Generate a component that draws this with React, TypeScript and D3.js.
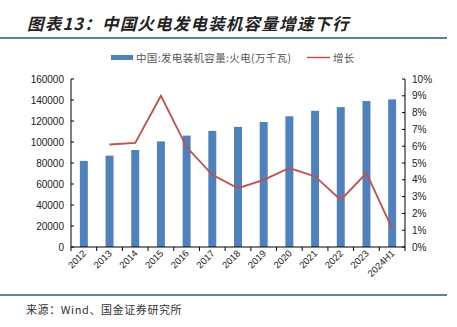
import React from "react";
import * as d3 from "d3";

const categories = ["2012","2013","2014","2015","2016","2017","2018","2019","2020","2021","2022","2023","2024H1"];
const capacity = [81968,87009,92363,100554,106094,110604,114408,119055,124517,129678,133239,139032,140586];
const growth: (number|null)[] = [null,6.1,6.2,9.0,5.95,4.3,3.5,4.0,4.7,4.2,2.8,4.4,1.1];
const leftTicks = [0,20000,40000,60000,80000,100000,120000,140000,160000];
const rightTicks = [0,1,2,3,4,5,6,7,8,9,10];

const W = 457, H = 327;
const L = 71, R = 405, T = 79, B = 247;

export default function App() {
  const x = d3.scaleBand<string>().domain(categories).range([L, R]).paddingInner(0.69).paddingOuter(0.345);
  const xb = d3.scaleBand<string>().domain(categories).range([L, R]);
  const yL = d3.scaleLinear().domain([0,160000]).range([B, T]);
  const yR = d3.scaleLinear().domain([0,10]).range([B, T]);
  const pts = categories.map((c,i)=>({c, v: growth[i]})).filter(d=>d.v!==null) as {c:string,v:number}[];
  const line = d3.line<{c:string,v:number}>().x(d=>(xb(d.c) as number)+xb.bandwidth()/2).y(d=>yR(d.v));
  const font = "'Liberation Sans', Arial, sans-serif";
  const cjk = "'Noto Sans CJK SC', sans-serif";
  return (
    <svg width={W} height={H} style={{position:"absolute", left:0, top:0}}>
      <rect width={W} height={H} fill="#fff"/>
      <text x={27} y={30} fontFamily={cjk} fontSize={16.5} fontWeight="bold" fontStyle="italic" fill="#222" letterSpacing={1.2}>图表13：中国火电发电装机容量增速下行</text>
      <line x1={0} x2={447} y1={38} y2={38} stroke="#1F5C7E" strokeWidth={1.5}/>
      {/* legend */}
      <rect x={111} y={55} width={22} height={5} fill="#4F81BD"/>
      <text x={136} y={61.5} fontFamily={cjk} fontSize={10.5} fill="#555" letterSpacing={0.35}>中国:发电装机容量:火电(万千瓦)</text>
      <line x1={307} x2={330} y1={57.5} y2={57.5} stroke="#C0504D" strokeWidth={1.5}/>
      <text x={333} y={61.5} fontFamily={cjk} fontSize={10.5} fill="#555" letterSpacing={0.35}>增长</text>
      {/* bars */}
      {categories.map((c,i)=>(
        <rect key={c} x={x(c)} y={yL(capacity[i])} width={x.bandwidth()} height={B-yL(capacity[i])} fill="#4F81BD"/>
      ))}
      {/* axes */}
      <line x1={L} x2={L} y1={T} y2={B} stroke="#000" strokeWidth={1}/>
      <line x1={R} x2={R} y1={T} y2={B} stroke="#000" strokeWidth={1}/>
      <line x1={L} x2={R} y1={B} y2={B} stroke="#000" strokeWidth={1}/>
      {leftTicks.map(t=>(
        <g key={t}>
          <line x1={L} x2={L+3} y1={yL(t)} y2={yL(t)} stroke="#000"/>
          <text x={64} y={yL(t)+3.5} textAnchor="end" fontFamily={font} fontSize={10} fill="#222">{t}</text>
        </g>
      ))}
      {rightTicks.map(t=>(
        <g key={t}>
          <line x1={R-3} x2={R} y1={yR(t)} y2={yR(t)} stroke="#000"/>
          <text x={412} y={yR(t)+3.5} fontFamily={font} fontSize={10} fill="#222">{t}%</text>
        </g>
      ))}
      {categories.map((c,i)=>(
        <line key={"t"+c} x1={(xb(c) as number)} x2={(xb(c) as number)} y1={B} y2={B+4} stroke="#000"/>
      ))}
      <line x1={R} x2={R} y1={B} y2={B+4} stroke="#000"/>
      {categories.map(c=>{
        const cx = (xb(c) as number)+xb.bandwidth()/2+3;
        const cy = B+7;
        return <text key={"l"+c} transform={`translate(${cx},${cy}) rotate(-45)`} textAnchor="end" fontFamily={font} fontSize={9.5} fill="#222">{c}</text>;
      })}
      <path d={line(pts) as string} fill="none" stroke="#C0504D" strokeWidth={1.8}/>
      <line x1={0} x2={447} y1={295} y2={295} stroke="#1F5C7E" strokeWidth={1.5}/>
      <text x={26} y={314} fontFamily={cjk} fontSize={11} fill="#333" letterSpacing={0.6}>来源：Wind、国金证券研究所</text>
    </svg>
  );
}
